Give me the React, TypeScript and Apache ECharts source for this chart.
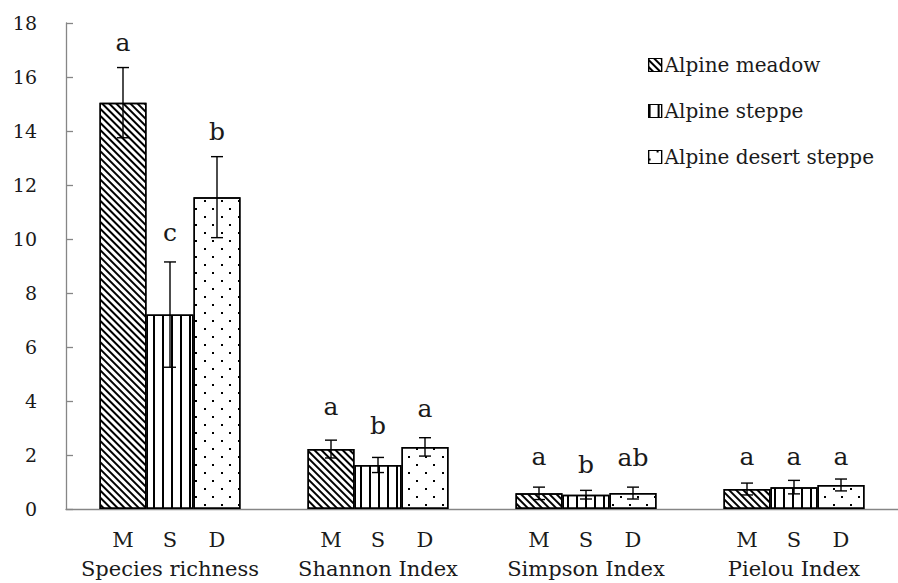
import React, { useEffect, useRef } from 'react';
import * as echarts from 'echarts';

const categories = ['Species richness', 'Shannon Index', 'Simpson Index', 'Pielou Index'];
const seriesNames = ['Alpine meadow', 'Alpine steppe', 'Alpine desert steppe'];
const barTags = ['M', 'S', 'D'];

const meadowMean = [15.05, 2.22, 0.58, 0.74];
const meadowSd = [1.3, 0.33, 0.23, 0.22];
const meadowLetters = ['a', 'a', 'a', 'a'];
const meadowLetterY = [17.27, 3.8, 1.94, 1.94];

const steppeMean = [7.2, 1.63, 0.53, 0.81];
const steppeSd = [1.95, 0.28, 0.16, 0.25];
const steppeLetters = ['c', 'b', 'b', 'a'];
const steppeLetterY = [10.23, 3.09, 1.65, 1.94];

const desertMean = [11.55, 2.3, 0.59, 0.89];
const desertSd = [1.5, 0.34, 0.22, 0.22];
const desertLetters = ['b', 'a', 'ab', 'a'];
const desertLetterY = [13.97, 3.73, 1.92, 1.94];

const yMin = 0;
const yMax = 18;
const yInterval = 2;

const FONT = '"DejaVu Serif", "Liberation Serif", serif';
const BAR_W = 47;
const TEXT_COLOR = '#1a1a1a';

const means = [meadowMean, steppeMean, desertMean];
const sds = [meadowSd, steppeSd, desertSd];
const letters = [meadowLetters, steppeLetters, desertLetters];
const letterYs = [meadowLetterY, steppeLetterY, desertLetterY];

const decals: any[] = [
  {
    symbol: 'rect',
    symbolSize: 1,
    dashArrayX: [1, 0],
    dashArrayY: [1.3, 2.3],
    rotation: Math.PI / 4,
    color: '#000',
    backgroundColor: '#fff',
  },
  {
    symbol: 'rect',
    symbolSize: 1,
    dashArrayX: [1.4, 6.2],
    dashArrayY: [4, 0],
    rotation: 0,
    color: '#000',
    backgroundColor: '#fff',
  },
  {
    symbol: 'rect',
    symbolSize: 1,
    dashArrayX: [
      [1.6, 14.4],
      [0, 8, 1.6, 6.4],
    ],
    dashArrayY: [1.6, 5.6],
    rotation: 0,
    color: '#000',
    backgroundColor: '#fff',
  },
];

export default function App() {
  const ref = useRef<HTMLDivElement>(null);

  useEffect(() => {
    if (!ref.current) return;
    const chart = echarts.init(ref.current, undefined, { renderer: 'svg' });

    const barSeries = seriesNames.map((name, i) => ({
      name,
      type: 'bar',
      data: means[i],
      barWidth: BAR_W,
      barGap: '0%',
      itemStyle: {
        color: '#fff',
        borderColor: '#000',
        borderWidth: 1.5,
        decal: decals[i],
      },
      label: {
        show: true,
        position: 'bottom',
        distance: 20,
        formatter: () => barTags[i],
        fontFamily: FONT,
        fontSize: 21,
        lineHeight: 22,
        color: TEXT_COLOR,
      },
      emphasis: { disabled: true },
      z: 2,
    }));

    const errSeries = seriesNames.map((name, i) => ({
      name: 'err-' + barTags[i],
      type: 'custom',
      data: means[i].map((m, c) => [c, m, sds[i][c], letterYs[i][c]]),
      encode: { x: 0, y: 1 },
      z: 5,
      clip: false,
      silent: true,
      renderItem: (params: any, api: any) => {
        const c = api.value(0);
        const m = api.value(1);
        const s = api.value(2);
        const ly = api.value(3);
        const x = api.coord([c, m])[0] + (i - 1) * BAR_W;
        const yTop = api.coord([c, m + s])[1];
        const yBot = api.coord([c, m - s])[1];
        const yL = api.coord([c, ly])[1];
        const cap = 6;
        const st = { stroke: '#000', lineWidth: 1.4 };
        return {
          type: 'group',
          children: [
            { type: 'line', shape: { x1: x, y1: yTop, x2: x, y2: yBot }, style: st },
            { type: 'line', shape: { x1: x - cap, y1: yTop, x2: x + cap, y2: yTop }, style: st },
            { type: 'line', shape: { x1: x - cap, y1: yBot, x2: x + cap, y2: yBot }, style: st },
            {
              type: 'text',
              x,
              y: yL,
              style: {
                text: letters[i][c],
                fontFamily: FONT,
                fontSize: 25,
                fill: TEXT_COLOR,
                align: 'center',
                verticalAlign: 'middle',
              },
            },
          ],
        };
      },
    }));

    chart.setOption({
      animation: false,
      backgroundColor: '#fff',
      textStyle: { fontFamily: FONT },
      grid: { left: 66, right: -11, top: 23, bottom: 74, containLabel: false },
      legend: {
        data: seriesNames,
        orient: 'vertical',
        left: 643,
        top: 49,
        itemWidth: 13,
        itemHeight: 13,
        itemGap: 24,
        icon: 'rect',
        selectedMode: false,
        itemStyle: { borderColor: '#000', borderWidth: 1.2 },
        textStyle: { fontFamily: FONT, fontSize: 20, lineHeight: 22, color: TEXT_COLOR, padding: [0, 0, 0, -2] },
      },
      xAxis: {
        type: 'category',
        data: categories,
        boundaryGap: true,
        axisLine: { lineStyle: { color: '#868686', width: 1.3 } },
        axisTick: { show: false },
        axisLabel: { fontFamily: FONT, fontSize: 21, lineHeight: 22, color: TEXT_COLOR, margin: 49, interval: 0 },
        splitLine: { show: false },
      },
      yAxis: {
        type: 'value',
        min: yMin,
        max: yMax,
        interval: yInterval,
        axisLine: { show: true, lineStyle: { color: '#868686', width: 1.3 } },
        axisTick: { show: true, inside: true, length: 7, lineStyle: { color: '#868686', width: 1.3 } },
        axisLabel: { fontFamily: FONT, fontSize: 19, color: TEXT_COLOR, margin: 29 },
        splitLine: { show: false },
      },
      series: [...barSeries, ...errSeries],
    });

    return () => chart.dispose();
  }, []);

  return (
    <div
      ref={ref}
      style={{ position: 'fixed', left: 0, top: 0, width: 898, height: 583, background: '#fff' }}
    />
  );
}
